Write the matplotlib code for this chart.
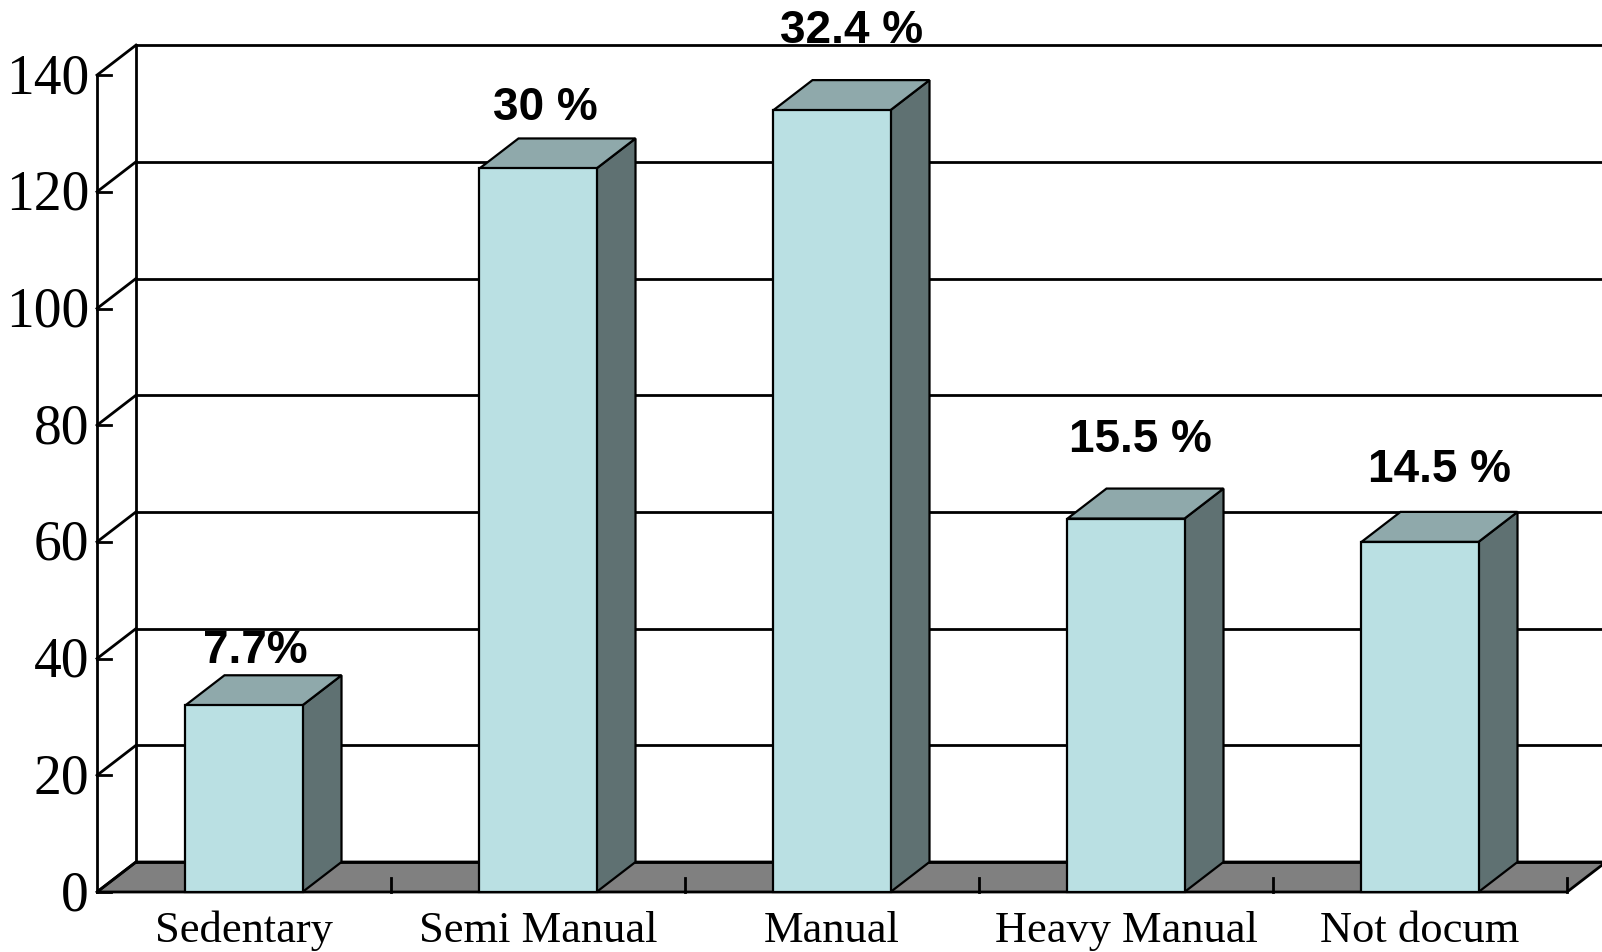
import matplotlib
matplotlib.use("Agg")
from matplotlib import pyplot as plt
from matplotlib.patches import Polygon, Rectangle

# Data
categories = ['Sedentary', 'Semi Manual', 'Manual', 'Heavy Manual', 'Not docum']
counts = [32, 124, 134, 64, 60]
pct_labels = ['7.7%', '30 %', '32.4 %', '15.5 %', '14.5 %']
y_ticks = [0, 20, 40, 60, 80, 100, 120, 140]

# hand-placed label nudges (category units, value units above bar top)
label_dx = [0.037, 0.024, 0.065, 0.048, 0.065]
label_dy = [7.2, 8.3, 11.5, 11.4, 10.3]

front_col = '#BAE0E3'
top_col = '#8FA9AB'
side_col = '#5F7172'
floor_col = '#808080'

# pseudo-3d depth offset in data units
dx = 39 / 294
dy = 30 / 5.835
bar_w = 0.398
n = len(categories)

fig = plt.figure(figsize=(16.02, 9.52), dpi=100)
ax = fig.add_axes([0, 0, 1, 1])
ax.set_xlim(-97 / 294, (1602 - 97) / 294)
ax.set_ylim(-60 / 5.835, (952 - 60) / 5.835)
ax.axis('off')

lw = 2.0

# floor
ax.add_patch(Polygon([(0, 0), (n, 0), (n + dx, dy), (dx, dy)], closed=True,
                     facecolor=floor_col, edgecolor='black', lw=lw, zorder=1))

# back wall gridlines and left side wall
for v in y_ticks:
    ax.plot([dx, n + dx + 1], [v + dy, v + dy], color='black', lw=lw, zorder=2)
    ax.plot([0, dx], [v, v + dy], color='black', lw=lw, zorder=2)
    ax.plot([0, 14 / 294], [v, v], color='black', lw=lw, zorder=2)
    ax.text(-0.027, v - 0.7, str(v), ha='right', va='center', fontsize=40,
            family='Liberation Serif')
ax.plot([dx, dx], [dy, y_ticks[-1] + dy], color='black', lw=lw, zorder=2)
ax.plot([0, 0], [0, y_ticks[-1]], color='black', lw=lw, zorder=2)

# x axis ticks
for i in range(1, n + 1):
    ax.plot([i, i], [0, 14 / 5.835], color='black', lw=lw, zorder=2)

# bars
for i, (v, lab) in enumerate(zip(counts, pct_labels)):
    c = i + 0.5
    l, r = c - bar_w / 2, c + bar_w / 2
    ax.add_patch(Polygon([(r, 0), (r + dx, dy), (r + dx, v + dy), (r, v)], closed=True,
                         facecolor=side_col, edgecolor='black', lw=1.6, zorder=3))
    ax.add_patch(Polygon([(l, v), (r, v), (r + dx, v + dy), (l + dx, v + dy)], closed=True,
                         facecolor=top_col, edgecolor='black', lw=1.6, zorder=3))
    ax.add_patch(Rectangle((l, 0), bar_w, v, facecolor=front_col,
                           edgecolor='black', lw=1.6, zorder=4))
    ax.text(c + label_dx[i], v + label_dy[i], lab, ha='center', va='baseline',
            fontsize=33, fontweight='bold', family='Liberation Sans', zorder=5)
    ax.text(c, -8.57, categories[i], ha='center', va='baseline', fontsize=32,
            family='Liberation Serif')

fig.savefig('out.png', dpi=100)
